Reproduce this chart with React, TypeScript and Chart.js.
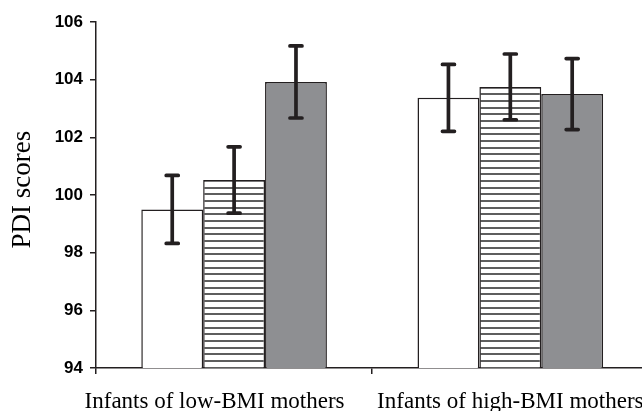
import React, { useEffect, useRef } from "react";
import { Chart, registerables } from "chart.js";

Chart.register(...registerables);

const categories = ["Infants of low-BMI mothers", "Infants of high-BMI mothers"];
const whiteValues = [99.5, 103.37];
const whiteErrors = [1.18, 1.16];
const stripedValues = [100.52, 103.75];
const stripedErrors = [1.15, 1.14];
const grayValues = [103.92, 103.5];
const grayErrors = [1.25, 1.23];
const yTicks = [94, 96, 98, 100, 102, 104, 106];
const yTitle = "PDI scores";

const INK = "#231f20";

function makeStripes(): CanvasPattern | string {
  const c = document.createElement("canvas");
  c.width = 8;
  c.height = 20;
  const ctx = c.getContext("2d");
  if (!ctx) return "#ccc";
  ctx.fillStyle = "#ffffff";
  ctx.fillRect(0, 0, 8, 20);
  ctx.fillStyle = "#5e5e5e";
  ctx.fillRect(0, 0, 8, 2);
  ctx.fillRect(0, 7, 8, 2);
  ctx.fillRect(0, 13, 8, 2);
  const p = ctx.createPattern(c, "repeat");
  return p || "#ccc";
}

const errorBarPlugin = {
  id: "errorBars",
  afterDatasetsDraw(chart: any) {
    const ctx = chart.ctx;
    const y = chart.scales.y;
    ctx.save();
    ctx.strokeStyle = INK;
    chart.data.datasets.forEach((ds: any, di: number) => {
      const meta = chart.getDatasetMeta(di);
      meta.data.forEach((bar: any, i: number) => {
        const v = ds.data[i];
        const e = ds.errors[i];
        const x = bar.x;
        const yTop = y.getPixelForValue(v + e);
        const yBot = y.getPixelForValue(v - e);
        ctx.lineWidth = 3.7;
        ctx.lineCap = "butt";
        ctx.beginPath();
        ctx.moveTo(x, yTop);
        ctx.lineTo(x, yBot);
        ctx.stroke();
        ctx.lineCap = "round";
        ctx.lineWidth = 3.7;
        ctx.beginPath();
        ctx.moveTo(x - 6, yTop);
        ctx.lineTo(x + 6, yTop);
        ctx.moveTo(x - 6, yBot);
        ctx.lineTo(x + 6, yBot);
        ctx.stroke();
      });
    });
    ctx.restore();
  },
};

export default function App() {
  const ref = useRef<HTMLCanvasElement>(null);
  useEffect(() => {
    if (!ref.current) return;
    const stripes = makeStripes();
    const chart = new Chart(ref.current, {
      type: "bar",
      data: {
        labels: categories,
        datasets: [
          { data: whiteValues, errors: whiteErrors, backgroundColor: "#ffffff", borderColor: INK, borderWidth: 1.5 } as any,
          { data: stripedValues, errors: stripedErrors, backgroundColor: stripes, borderColor: INK, borderWidth: 1.5 } as any,
          { data: grayValues, errors: grayErrors, backgroundColor: "#8e8f92", borderColor: INK, borderWidth: 1.5 } as any,
        ],
      },
      options: {
        responsive: false,
        animation: false,
        devicePixelRatio: 1,
        layout: { padding: { top: 22, right: 10, bottom: 0, left: 0 } },
        plugins: { legend: { display: false }, tooltip: { enabled: false } },
        datasets: { bar: { categoryPercentage: 0.672, barPercentage: 1 } },
        scales: {
          x: {
            afterFit: (s: any) => { s.height = 43; },
            grid: { drawOnChartArea: false, tickLength: 6, color: INK, lineWidth: 1.5 },
            border: { color: INK, width: 1.5 },
            ticks: {
              color: "#000",
              padding: 14,
              maxRotation: 0,
              autoSkip: false,
              font: { family: "Liberation Serif", size: 23 },
              callback: (_v: any, i: number) => (i === 0 ? categories[i] + "\u2003\u2002\u2009" : categories[i]),
            },
          },
          y: {
            min: 94,
            max: 106,
            afterFit: (s: any) => { s.width = 96; },
            afterBuildTicks: (s: any) => { s.ticks = yTicks.map((v) => ({ value: v })); },
            grid: { drawOnChartArea: false, tickLength: 6, color: INK, lineWidth: 1.5 },
            border: { color: INK, width: 1.5 },
            ticks: {
              color: "#000",
              padding: 7,
              font: { family: "Liberation Sans", size: 17, weight: "bold" },
            },
            title: {
              display: true,
              text: "\u2009\u2009" + yTitle,
              color: "#000",
              font: { family: "Liberation Serif", size: 27 },
              padding: { top: 7, bottom: 1 },
            },
          },
        },
      },
      plugins: [errorBarPlugin],
    });
    return () => chart.destroy();
  }, []);
  return (
    <div style={{ position: "absolute", left: 0, top: 0, width: 642, height: 411, overflow: "hidden", background: "#fff" }}>
      <canvas ref={ref} width={660} height={411} style={{ display: "block", width: 660, height: 411 }} />
    </div>
  );
}
